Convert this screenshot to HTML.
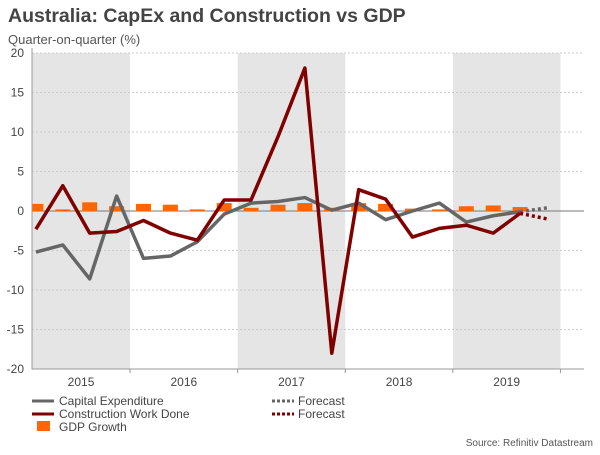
<!DOCTYPE html>
<html><head><meta charset="utf-8"><style>
body{margin:0;background:#fff;font-family:"Liberation Sans",sans-serif;}
svg text{font-family:"Liberation Sans",sans-serif;}
</style></head><body>
<svg width="600" height="450" xmlns="http://www.w3.org/2000/svg">
<defs><clipPath id="plotclip"><rect x="32" y="40" width="560" height="340"/></clipPath></defs>
<text x="8" y="22" font-size="19.5" font-weight="bold" fill="#444">Australia: CapEx and Construction vs GDP</text>
<text x="8" y="44" font-size="13" fill="#555">Quarter-on-quarter (%)</text>
<g id="bands"></g><g id="grid"></g><g id="bars" clip-path="url(#plotclip)"></g><g id="lines"></g><g id="axes"></g>
<g>
<line x1="32" y1="401" x2="54" y2="401" stroke="#666" stroke-width="3"/>
<text x="59" y="405" font-size="12" fill="#444">Capital Expenditure</text>
<line x1="32" y1="414" x2="54" y2="414" stroke="#800000" stroke-width="3"/>
<text x="59" y="418" font-size="12" fill="#444">Construction Work Done</text>
<rect x="37" y="421" width="13" height="10" fill="#ff6600"/>
<text x="59" y="431" font-size="12" fill="#444">GDP Growth</text>
<line x1="272" y1="401" x2="294" y2="401" stroke="#666" stroke-width="3" stroke-dasharray="3,2"/>
<text x="298" y="405" font-size="12" fill="#444">Forecast</text>
<line x1="272" y1="414" x2="294" y2="414" stroke="#800000" stroke-width="3" stroke-dasharray="3,2"/>
<text x="298" y="418" font-size="12" fill="#444">Forecast</text>
</g>
<text x="593" y="446" font-size="10" fill="#555" text-anchor="end">Source: Refinitiv Datastream</text>
</svg>
<script>
const years = ["2015","2016","2017","2018","2019"];
const yTicks = [20,15,10,5,0,-5,-10,-15,-20];
const capex = [-5.2,-4.3,-8.6,1.9,-6.0,-5.7,-3.9,-0.4,1.0,1.2,1.7,0.1,1.0,-1.1,0.0,1.0,-1.4,-0.6,-0.1];
const capexForecast = [-0.1,0.4];
const construction = [-2.3,3.2,-2.8,-2.6,-1.2,-2.8,-3.7,1.4,1.4,9.4,18.1,-18.0,2.7,1.5,-3.3,-2.2,-1.8,-2.8,-0.3];
const constructionForecast = [-0.3,-1.0];
const gdp = [0.9,0.2,1.1,0.6,0.9,0.8,0.2,1.0,0.4,0.8,1.0,0.4,1.0,0.9,0.3,0.2,0.6,0.7,0.5];
const NS="http://www.w3.org/2000/svg";
const L=32,R=584,T=53,B=369;
const qw=26.9, x0=35.9;
const X=i=>x0+qw*i;
const Y=v=>211-(v)*(B-T)/40;
function mk(tag,attrs,parent){const e=document.createElementNS(NS,tag);for(const k in attrs)e.setAttribute(k,attrs[k]);document.getElementById(parent).appendChild(e);return e;}
years.forEach((y,k)=>{
  const s=X(4*k)-qw/2, e=X(4*k+4)-qw/2;
  if(k%2===0){const r=mk('rect',{x:Math.max(L,s),y:T,width:e-Math.max(L,s),height:B-T,fill:'#e5e5e5'},'bands');
  
  }
  const t=mk('text',{x:(Math.max(L,s)+e)/2,y:386,'font-size':12,fill:'#444','text-anchor':'middle'},'axes');t.textContent=y;
  
  
  const tk=mk('line',{x1:e,y1:B,x2:e,y2:B+4,stroke:'#999'},'axes');
  
  
});
yTicks.forEach(v=>{
  const g=mk('line',{x1:L,y1:Y(v),x2:R,y2:Y(v),stroke:v===0?'#777':'#ccc','stroke-dasharray':v===0?'':'2,2','stroke-width':1},'grid');
  
  
  const t=mk('text',{x:24,y:Y(v)+4,'font-size':12,fill:'#444','text-anchor':'end'},'axes');t.textContent=v;
  
  
});
const ax=mk('path',{d:`M${L},${T-5}V${B}H${R}`,stroke:'#999',fill:'none'},'axes');


gdp.forEach((v,i)=>{
  const b=mk('rect',{x:X(i)-7.5,y:Y(Math.max(v,0)),width:15,height:Math.abs(Y(v)-Y(0)),fill:'#ff6600'},'bars');
  
  
});
function line(arr,off,color,dash,name){
  const p=mk('polyline',{points:arr.map((v,i)=>X(i+off)+','+Y(v)).join(' '),fill:'none',stroke:color,'stroke-width':3.5,'stroke-linejoin':'round','stroke-dasharray':dash},'lines');
  
  
}
line(capex,0,'#666','','capex-line');
line(capexForecast,18,'#666','3,3','capex-forecast-line');
line(construction,0,'#800000','','construction-line');
line(constructionForecast,18,'#800000','3,3','construction-forecast-line');
</script>
</body></html>
